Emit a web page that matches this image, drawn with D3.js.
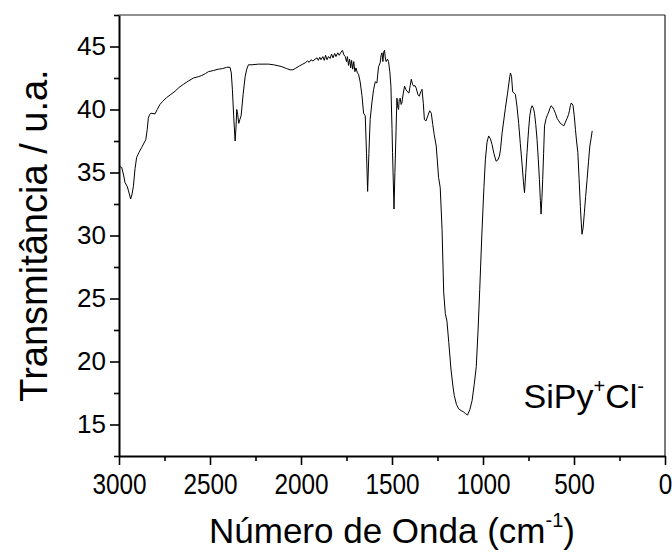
<!DOCTYPE html>
<html>
<head>
<meta charset="utf-8">
<script src="https://cdn.jsdelivr.net/npm/d3@7"></script>
<style>
  html, body { margin: 0; padding: 0; background: #fff; }
  svg { display: block; }
  text { font-family: "Liberation Sans", Arial, sans-serif; fill: #000; }
</style>
</head>
<body>
<svg id="chart" width="672" height="556"></svg>
<script>
// ---- data ----
const wavenumber = [
  3000,2985,2975,2967,2955,2949,2936,2928,2921,2912,2903,2890,2875,2853,2845,2839,2832,2824,2802,2790,
  2775,2760,2738,2715,2692,2670,2646,2620,2591,2565,2545,2525,2509,2480,2454,2430,2408,2390,2383,2377,
  2370,2362,2357,2353,2348,2342,2336,2329,2318,2307,2298,2289,2270,2234,2197,2179,2150,2105,2080,2060,
  2045,2032,2010,1990,1977,1965,1955,1945,1935,1922,1912,1905,1897,1890,1880,1872,1865,1857,1849,1840,
  1832,1824,1815,1808,1798,1790,1780,1772,1765,1757,1750,1745,1739,1733,1727,1722,1716,1710,1704,1698,
  1690,1684,1675,1665,1656,1647,1640,1634,1627,1620,1610,1601,1592,1583,1574,1565,1560,1555,1550,1545,
  1541,1536,1532,1525,1519,1512,1506,1500,1497,1489,1484,1480,1473,1468,1464,1460,1455,1450,1446,1438,
  1431,1424,1418,1407,1400,1394,1387,1381,1374,1367,1358,1350,1342,1335,1328,1322,1313,1303,1293,1284,
  1276,1268,1257,1244,1235,1225,1216,1207,1198,1188,1176,1165,1158,1146,1134,1120,1107,1095,1085,1072,
  1060,1048,1037,1027,1018,1006,995,987,978,969,960,950,940,928,918,910,904,895,877,865,
  853,849,843,837,829,822,813,804,795,785,778,772,765,758,750,743,736,730,723,717,
  710,703,696,690,685,681,676,672,667,662,653,645,639,632,626,618,611,602,593,584,
  575,565,556,547,538,530,525,520,516,510,505,498,492,486,479,472,465,460,456,450,
  443,436,428,420,413,406,400
];
const transmittance = [
  35.5,35.4,34.8,34.2,33.9,33.6,32.9,33.3,33.9,35.3,36.2,36.6,37.0,37.6,38.4,39.3,39.6,39.7,39.65,40.0,
  40.4,40.65,40.95,41.2,41.45,41.75,42.0,42.25,42.5,42.6,42.7,42.85,43.0,43.1,43.2,43.25,43.35,43.35,42.9,41.6,
  39.5,37.5,38.6,40.0,39.6,38.9,39.2,39.5,41.2,42.6,43.2,43.55,43.55,43.6,43.6,43.6,43.55,43.4,43.25,43.15,
  43.15,43.25,43.45,43.6,43.7,43.85,43.75,43.95,43.85,44.0,44.1,43.9,44.15,43.95,44.2,43.9,44.3,43.95,44.2,44.05,
  44.4,44.1,44.45,44.2,44.5,44.3,44.55,44.7,44.35,44.2,43.8,44.2,43.5,44.0,43.3,43.9,43.2,43.8,43.0,43.3,
  42.9,42.8,42.2,41.1,39.7,39.5,36.5,33.5,36.5,39.2,40.6,41.6,42.2,42.1,43.4,43.7,44.3,44.5,43.8,44.6,
  44.7,44.0,43.8,44.0,43.8,43.0,41.85,38.5,36.6,32.1,35.0,37.1,40.9,40.2,40.0,40.8,40.9,40.4,40.5,41.3,
  41.85,41.6,41.45,41.3,41.9,42.4,42.0,41.85,41.9,41.7,41.2,41.05,41.4,41.6,40.5,39.2,39.1,39.5,39.9,39.7,
  38.8,38.0,37.1,34.6,33.8,30.5,25.5,23.8,23.2,21.5,19.4,18.0,17.3,16.6,16.25,16.1,16.0,15.85,15.75,16.2,
  16.9,18.2,19.6,22.5,25.7,30.2,33.8,36.0,37.4,37.9,37.7,37.2,36.5,35.9,36.0,36.3,36.8,38.15,40.1,41.3,
  42.6,42.9,42.6,41.4,41.3,41.2,40.2,38.9,37.3,35.6,34.3,33.4,35.0,36.6,38.3,39.5,40.1,40.3,40.1,39.7,
  38.8,37.6,36.0,34.45,32.8,31.7,33.0,34.45,36.5,38.7,39.3,39.6,39.8,40.1,40.3,40.2,40.0,39.7,39.3,39.1,
  38.9,38.8,38.7,39.0,39.3,39.6,39.9,40.3,40.5,40.45,40.3,39.4,38.4,37.5,36.6,34.5,32.3,31.0,30.1,30.6,
  31.8,33.1,34.45,35.9,37.1,37.7,38.3
];
const xMajorTicks = [3000, 2500, 2000, 1500, 1000, 500, 0];
const xMinorTicks = [2750, 2250, 1750, 1250, 750, 250];
const yMajorTicks = [15, 20, 25, 30, 35, 40, 45];
const yMinorTicks = [12.5, 17.5, 22.5, 27.5, 32.5, 37.5, 42.5, 47.5];
const xDomain = [3000, 0];
const yDomain = [12.5, 47.5];
const xTitle = "Número de Onda (cm";
const xTitleSup = "-1";
const yTitle = "Transmitância / u.a.";
const sampleName = "SiPy";
const sampleSup1 = "+";
const sampleName2 = "Cl";
const sampleSup2 = "-";

// ---- layout ----
const L = 119, R = 665, T = 15, B = 456;
const svg = d3.select("#chart");
const x = d3.scaleLinear().domain(xDomain).range([L, R]);
const y = d3.scaleLinear().domain(yDomain).range([B, T]);

// frame (top, right)
svg.append("line").attr("x1", L).attr("x2", R).attr("y1", T).attr("y2", T)
  .attr("stroke", "#222").attr("stroke-width", 1.2);
svg.append("line").attr("x1", R).attr("x2", R).attr("y1", T).attr("y2", B)
  .attr("stroke", "#222").attr("stroke-width", 1.2);

// x axis
const gx = svg.append("g").attr("transform", `translate(0,${B})`);
gx.call(d3.axisBottom(x).tickValues(xMajorTicks).tickSize(9).tickSizeOuter(0).tickPadding(8)
  .tickFormat(d3.format("d")));
gx.append("g").call(d3.axisBottom(x).tickValues(xMinorTicks).tickSize(5).tickSizeOuter(0).tickFormat(""))
  .select(".domain").remove();
// y axis
const gy = svg.append("g").attr("transform", `translate(${L},0)`);
gy.call(d3.axisLeft(y).tickValues(yMajorTicks).tickSize(9).tickSizeOuter(0).tickPadding(4)
  .tickFormat(d3.format("d")));
gy.append("g").call(d3.axisLeft(y).tickValues(yMinorTicks).tickSize(5).tickSizeOuter(0).tickFormat(""))
  .select(".domain").remove();

svg.selectAll(".domain").attr("stroke", "#000").attr("stroke-width", 2);
svg.selectAll(".tick line").attr("stroke", "#000").attr("stroke-width", 1.6);
svg.selectAll(".tick text").attr("font-family", '"Liberation Sans", Arial, sans-serif').attr("fill", "#000");
gy.selectAll(".tick text").attr("font-size", 26);
gx.selectAll(".tick text").attr("font-size", 29).attr("transform", "scale(0.84,1)")
  .attr("x", 0);

// spectrum
const pts = wavenumber.map((w, i) => [w, transmittance[i]]);
const line = d3.line().x(d => x(d[0])).y(d => y(d[1]));
svg.append("path").datum(pts).attr("d", line)
  .attr("fill", "none").attr("stroke", "#000").attr("stroke-width", 1).attr("stroke-linejoin", "round");

// x title
const xt = svg.append("text").attr("x", (L + R) / 2).attr("y", 543).attr("text-anchor", "middle")
  .attr("font-size", 35);
xt.append("tspan").text(xTitle);
xt.append("tspan").attr("font-size", 20).attr("dy", -16).text(xTitleSup);
xt.append("tspan").attr("dy", 16).text(")");

// y title
svg.append("text").attr("transform", `translate(47,${(T + B) / 2}) rotate(-90)`)
  .attr("text-anchor", "middle").attr("font-size", 38).text(yTitle);

// sample label
const st = svg.append("text").attr("x", 644).attr("y", 408).attr("text-anchor", "end").attr("font-size", 34);
st.append("tspan").text(sampleName);
st.append("tspan").attr("font-size", 20).attr("dy", -15).text(sampleSup1);
st.append("tspan").attr("dy", 15).text(sampleName2);
st.append("tspan").attr("font-size", 20).attr("dy", -15).text(sampleSup2);
</script>
</body>
</html>
